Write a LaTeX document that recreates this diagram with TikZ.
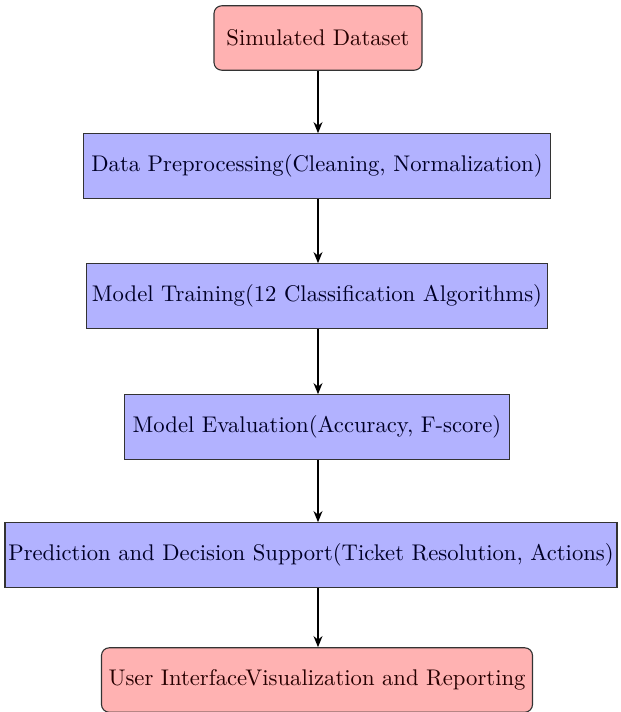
\documentclass[tikz,border=0pt]{standalone}
\usetikzlibrary{arrows.meta}
\begin{document}
\begin{tikzpicture}[x=0.45pt,y=-0.45pt,
  base/.style={draw=black!80, line width=0.5pt, minimum height=29pt, inner xsep=1.5pt, font=\fontsize{10.2}{12}\selectfont},
  startstop/.style={base, rounded corners=3.5pt, fill=red!30, text=black!85!red},
  process/.style={base, rectangle, fill=blue!30, text=black!85!blue},
  flow/.style={-{Stealth[length=5pt,width=4pt]}, line width=0.8pt}]
\useasboundingbox (0,0) rectangle (620,712);
\node[startstop, minimum width=208*0.45pt] (n1) at (318,38) {Simulated Dataset};
\node[process, minimum width=467*0.45pt] (n2) at (317,166) {Data Preprocessing(Cleaning, Normalization)};
\node[process, minimum width=461*0.45pt] (n3) at (317,296) {Model Training(12 Classification Algorithms)};
\node[process, minimum width=385*0.45pt] (n4) at (317,427) {Model Evaluation(Accuracy, F-score)};
\node[process, minimum width=612*0.45pt] (n5) at (311,555) {Prediction and Decision Support(Ticket Resolution, Actions)};
\node[startstop, minimum width=431*0.45pt] (n6) at (317,680) {User InterfaceVisualization and Reporting};
\draw[flow] (n1.south -| 318,0) -- (n2.north -| 318,0);
\draw[flow] (n2.south -| 318,0) -- (n3.north -| 318,0);
\draw[flow] (n3.south -| 318,0) -- (n4.north -| 318,0);
\draw[flow] (n4.south -| 318,0) -- (n5.north -| 318,0);
\draw[flow] (n5.south -| 318,0) -- (n6.north -| 318,0);
\end{tikzpicture}
\end{document}
